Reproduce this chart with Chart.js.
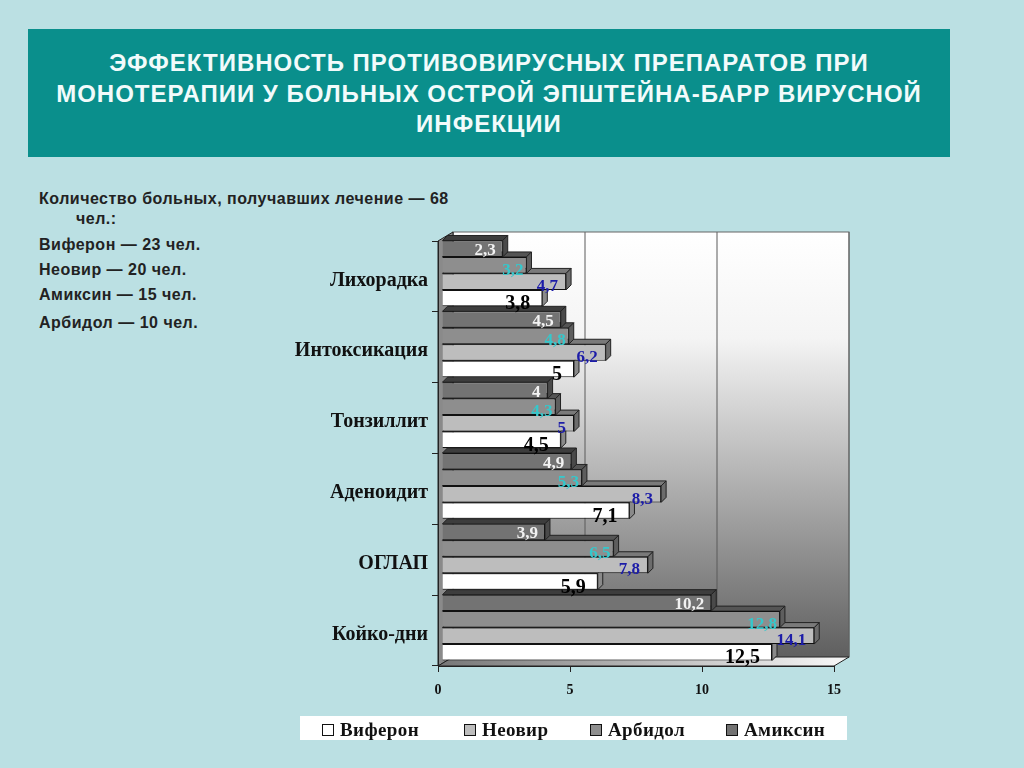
<!DOCTYPE html>
<html lang="ru">
<head>
<meta charset="utf-8">
<title>Эффективность противовирусных препаратов</title>
<script src="https://cdn.jsdelivr.net/npm/chart.js@4"></script>
<style>
  html, body { margin: 0; padding: 0; width: 1024px; height: 768px; overflow: hidden; background: #bbe0e3; }
  #grafico { position: absolute; left: 0; top: 0; }
  #titulo {
    position: absolute; left: 28px; top: 29px; width: 922px; height: 128px;
    background: #0a8f8c; color: #f2fbfb; text-align: center;
    font: bold 24px/30.5px "Liberation Sans", sans-serif; letter-spacing: 1px;
    box-sizing: border-box; padding-top: 19px;
  }
  #titulo div { white-space: nowrap; }
  .nota { position: absolute; font: bold 16px "Liberation Sans", sans-serif; color: #222; letter-spacing: 0.5px; white-space: nowrap; line-height: 18px; }
  #legenda {
    position: absolute; left: 300px; top: 716px; width: 547px; height: 24px; background: #fff;
    font: bold 19px/28px "Liberation Serif", serif; color: #111;
  }
  #legenda span { position: absolute; top: 0; white-space: nowrap; letter-spacing: 0.4px; }
  #legenda i { display: inline-block; width: 10px; height: 10px; border: 1px solid #111; margin-right: 6px; vertical-align: 0; }
</style>
</head>
<body>
<div id="titulo">
  <div>ЭФФЕКТИВНОСТЬ ПРОТИВОВИРУСНЫХ ПРЕПАРАТОВ ПРИ</div>
  <div>МОНОТЕРАПИИ У БОЛЬНЫХ ОСТРОЙ ЭПШТЕЙНА-БАРР ВИРУСНОЙ</div>
  <div>ИНФЕКЦИИ</div>
</div>
<div class="nota" style="left:39px;top:190px">Количество больных, получавших лечение — 68</div>
<div class="nota" style="left:76px;top:210px">чел.:</div>
<div class="nota" style="left:39px;top:236px">Виферон — 23 чел.</div>
<div class="nota" style="left:39px;top:261px">Неовир — 20 чел.</div>
<div class="nota" style="left:39px;top:286px">Амиксин — 15 чел.</div>
<div class="nota" style="left:39px;top:314px">Арбидол — 10 чел.</div>
<canvas id="grafico" width="1024" height="768"></canvas>
<div id="legenda"></div>
<script>
/* Dados */
const categorias = ["Лихорадка", "Интоксикация", "Тонзиллит", "Аденоидит", "ОГЛАП", "Койко-дни"];
const amiksin = [2.3, 4.5, 4, 4.9, 3.9, 10.2];
const arbidol = [3.2, 4.8, 4.3, 5.3, 6.5, 12.8];
const neovir = [4.7, 6.2, 5, 8.3, 7.8, 14.1];
const viferon = [3.8, 5, 4.5, 7.1, 5.9, 12.5];
const xTicks = [0, 5, 10, 15];

/* Profundidade do desenho 3D */
const fundoX = 15, fundoY = 9;
const barraX = 4, barraY = 3;
const prof = 5;

const series = [
  { nome: "Амиксин", dados: amiksin, cor: "#737373", topo: "#3d3d3d", lado: "#4a4a4a", texto: "#f2f2f2", fonte: 17, dx: -7, dy: 2 },
  { nome: "Арбидол", dados: arbidol, cor: "#8e8e8e", topo: "#555555", lado: "#5e5e5e", texto: "#35c8cc", fonte: 17, dx: -3, dy: 5 },
  { nome: "Неовир", dados: neovir, cor: "#bdbdbd", topo: "#7a7a7a", lado: "#6c6c6c", texto: "#1c1ca8", fonte: 17, dx: -8, dy: 5 },
  { nome: "Виферон", dados: viferon, cor: "#ffffff", topo: "#8c8c8c", lado: "#8a8a8a", texto: "#000000", fonte: 20, dx: -12, dy: 6 }
];

function poligono(ctx, pontos, cor) {
  ctx.beginPath();
  pontos.forEach((p, i) => (i ? ctx.lineTo(p[0], p[1]) : ctx.moveTo(p[0], p[1])));
  ctx.closePath();
  ctx.fillStyle = cor;
  ctx.fill();
  ctx.strokeStyle = "#222";
  ctx.lineWidth = 1;
  ctx.stroke();
}

/* Paredes do fundo, chão e grade */
const paredes = {
  id: "paredes",
  beforeDraw(chart) {
    const { ctx, chartArea: a, scales: { x } } = chart;
    const grad = ctx.createLinearGradient(0, a.top - fundoY, 0, a.bottom - fundoY);
    grad.addColorStop(0, "#ffffff");
    grad.addColorStop(0.25, "#f4f4f4");
    grad.addColorStop(1, "#5f5f5f");
    ctx.save();
    ctx.fillStyle = grad;
    ctx.fillRect(a.left + fundoX, a.top - fundoY, a.width, a.height);
    xTicks.forEach((v) => {
      const px = x.getPixelForValue(v) + fundoX;
      ctx.strokeStyle = "#5a5a5a";
      ctx.lineWidth = 1;
      ctx.beginPath();
      ctx.moveTo(px, a.top - fundoY);
      ctx.lineTo(px, a.bottom - fundoY);
      ctx.stroke();
    });
    ctx.strokeStyle = "#666";
    ctx.strokeRect(a.left + fundoX, a.top - fundoY, a.width, a.height);
    poligono(ctx, [[a.left, a.top], [a.left + fundoX, a.top - fundoY], [a.left + fundoX, a.bottom - fundoY], [a.left, a.bottom]], "#8a8a8a");
    const chao = ctx.createLinearGradient(a.left, 0, a.right, 0);
    chao.addColorStop(0, "#777777");
    chao.addColorStop(1, "#f4f4f4");
    poligono(ctx, [[a.left, a.bottom], [a.right, a.bottom], [a.right + fundoX, a.bottom - fundoY], [a.left + fundoX, a.bottom - fundoY]], chao);
    ctx.restore();
  },
  beforeDatasetsDraw(chart) {
    chart.ctx.save();
    chart.ctx.translate(barraX, -barraY);
  },
  beforeDatasetDraw(chart, args) {
    const s = series[args.index];
    const ctx = chart.ctx;
    args.meta.data.forEach((b) => {
      const t = b.y - b.height / 2, f = b.y + b.height / 2;
      poligono(ctx, [[b.base, t], [b.x, t], [b.x + prof, t - prof], [b.base + prof, t - prof]], s.topo);
      poligono(ctx, [[b.x, t], [b.x + prof, t - prof], [b.x + prof, f - prof], [b.x, f]], s.lado);
    });
  },
  afterDatasetsDraw(chart) {
    const ctx = chart.ctx;
    ctx.restore();
    ctx.save();
    ctx.textAlign = "right";
    ctx.textBaseline = "middle";
    series.forEach((s, i) => {
      ctx.fillStyle = s.texto;
      ctx.font = "bold " + s.fonte + "px 'Liberation Serif', serif";
      chart.getDatasetMeta(i).data.forEach((b, j) => {
        const txt = String(s.dados[j]).replace(".", ",");
        ctx.fillText(txt, b.x + barraX + s.dx, b.y - barraY + s.dy);
      });
    });
    ctx.restore();
  }
};

const config = {
  type: "bar",
  data: {
    labels: categorias,
    datasets: series.map((s) => ({
      label: s.nome,
      data: s.dados,
      backgroundColor: s.cor,
      borderColor: "#111",
      borderWidth: 1,
      barPercentage: 1,
      categoryPercentage: 0.93,
      clip: false
    }))
  },
  options: {
    indexAxis: "y",
    responsive: false,
    animation: false,
    layout: { padding: { left: 0, top: 241, right: 190, bottom: 72 } },
    plugins: { legend: { display: false }, tooltip: { enabled: false } },
    scales: {
      x: {
        min: 0,
        max: 15,
        afterBuildTicks(axis) { axis.ticks = xTicks.map((v) => ({ value: v })); },
        afterFit(axis) { axis.height = 30; },
        grid: { drawOnChartArea: false, tickLength: 6, tickColor: "#222" },
        border: { color: "#222" },
        ticks: { color: "#111", padding: 10, font: { family: "'Liberation Serif', serif", weight: "bold", size: 14 } }
      },
      y: {
        afterFit(axis) { axis.width = 438; },
        grid: { drawOnChartArea: false, tickLength: 6, tickColor: "#222" },
        border: { color: "#222" },
        ticks: { color: "#111", padding: 4, labelOffset: 4, font: { family: "'Liberation Serif', serif", weight: "bold", size: 20 } }
      }
    }
  },
  plugins: [paredes]
};
const grafico = new Chart(document.getElementById("grafico"), config);

/* Legenda */
const legenda = document.getElementById("legenda");
const posLegenda = [22, 164, 290, 426];
[...series].reverse().forEach((s, i) => {
  const item = document.createElement("span");
  item.style.left = posLegenda[i] + "px";
  item.innerHTML = '<i style="background:' + s.cor + '"></i>' + s.nome;
  legenda.appendChild(item);
});
</script>
</body>
</html>
